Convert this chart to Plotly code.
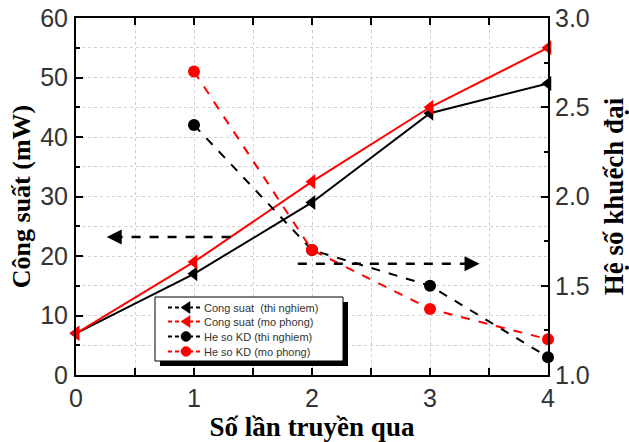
import plotly.graph_objects as go

passes = [0, 1, 2, 3, 4]
power_exp = [7, 17, 29, 44, 49]
power_sim = [7, 19, 32.5, 45, 55]
kd_x = [1, 2, 3, 4]
kd_exp = [2.40, 1.70, 1.50, 1.10]
kd_sim = [2.70, 1.70, 1.37, 1.20]
series_names = ["Cong suat  (thi nghiem)", "Cong suat (mo phong)",
                "He so KD (thi nghiem)", "He so KD (mo phong)"]
series_colors = ["black", "red", "black", "red"]
series_symbols = ["triangle", "triangle", "circle", "circle"]

W, H = 629, 442
L, R, T, B = 76, 81, 18, 67
PW, PH = W - L - R, H - T - B


def px(x):
    return (x - L) / PW


def py(y):
    return (H - B - y) / PH


fig = go.Figure()
fig.add_trace(go.Scatter(x=passes, y=power_exp, name=series_names[0], mode="lines+markers",
                         line=dict(color="black", width=2), marker=dict(symbol="triangle-left", size=13, color="black"),
                         cliponaxis=False, showlegend=False))
fig.add_trace(go.Scatter(x=passes, y=power_sim, name=series_names[1], mode="lines+markers",
                         line=dict(color="red", width=2), marker=dict(symbol="triangle-left", size=13, color="red"),
                         cliponaxis=False, showlegend=False))
fig.add_trace(go.Scatter(x=kd_x, y=kd_exp, name=series_names[2], mode="lines+markers", yaxis="y2",
                         line=dict(color="black", width=2, dash="dash"), marker=dict(symbol="circle", size=12, color="black"),
                         cliponaxis=False, showlegend=False))
fig.add_trace(go.Scatter(x=kd_x, y=kd_sim, name=series_names[3], mode="lines+markers", yaxis="y2",
                         line=dict(color="red", width=2, dash="dash"), marker=dict(symbol="circle", size=12, color="red"),
                         cliponaxis=False, showlegend=False))

tickfont = dict(family="Liberation Sans, Arial", size=25, color="#333")
grid = dict(showgrid=True, gridcolor="#cfcfcf", griddash="dot", gridwidth=1)
fig.update_layout(
    width=W, height=H,
    margin=dict(l=L, r=R, t=T, b=B),
    paper_bgcolor="white", plot_bgcolor="white",
    showlegend=False,
    xaxis=dict(range=[0, 4], dtick=1, **grid, automargin=False,
               showline=True, linecolor="black", linewidth=2, mirror="allticks",
               ticks="inside", ticklen=7, tickwidth=2, tickcolor="black", tickfont=tickfont,
               minor=dict(dtick=0.5, ticks="inside", ticklen=4, tickwidth=2, tickcolor="black",
                          showgrid=True, gridcolor="#cfcfcf", griddash="dot"),
               zeroline=False,
               title=dict(text="<b>Số lần truyền qua</b>", font=dict(family="Liberation Serif, Times New Roman", size=27, color="black"), standoff=0)),
    yaxis=dict(range=[0, 60], dtick=10, **grid, automargin=False,
               showline=True, linecolor="black", linewidth=2, mirror=True,
               ticks="inside", ticklen=7, tickwidth=2, tickcolor="black", tickfont=tickfont, ticklabelstandoff=1,
               minor=dict(dtick=5, ticks="inside", ticklen=4, tickwidth=2, tickcolor="black",
                          showgrid=True, gridcolor="#cfcfcf", griddash="dot"),
               zeroline=False,
               title=dict(text="<b>Công suất (mW)</b>", font=dict(family="Liberation Serif, Times New Roman", size=26, color="black"), standoff=2)),
    yaxis2=dict(range=[1.0, 3.0], dtick=0.5, overlaying="y", side="right", showgrid=False, automargin=False,
                showline=True, linecolor="black", linewidth=2,
                ticks="inside", ticklen=7, tickwidth=2, tickcolor="black", tickfont=tickfont, tickformat=".1f",
                minor=dict(dtick=0.25, ticks="inside", ticklen=4, tickwidth=2, tickcolor="black"),
                zeroline=False,
                title=dict(text="<b>Hệ số khuếch đại</b>", font=dict(family="Liberation Serif, Times New Roman", size=27, color="black"), standoff=16)),
)

# manual legend box with shadow
bx0, bx1, by0, by1 = 155, 343, 297, 361
fig.add_shape(type="rect", xref="paper", yref="paper", x0=px(bx0 + 5), x1=px(bx1 + 5), y0=py(by1 + 5), y1=py(by0 + 5),
              fillcolor="black", line=dict(width=0), layer="above")
fig.add_shape(type="rect", xref="paper", yref="paper", x0=px(bx0), x1=px(bx1), y0=py(by1), y1=py(by0),
              fillcolor="white", line=dict(color="black", width=1), layer="above")
row_y = [307.5, 321.5, 336.5, 351.5]
for name, col, sym, yy in zip(series_names, series_colors, series_symbols, row_y):
    fig.add_shape(type="line", xref="paper", yref="paper", x0=px(168), x1=px(201), y0=py(yy), y1=py(yy),
                  line=dict(color=col, width=2, dash="4px,3px"), layer="above")
    cx = 186
    if sym == "triangle":
        path = f"M {px(cx - 5)} {py(yy)} L {px(cx + 4)} {py(yy - 6)} L {px(cx + 4)} {py(yy + 6)} Z"
        fig.add_shape(type="path", xref="paper", yref="paper", path=path, fillcolor=col,
                      line=dict(color=col, width=0.5), layer="above")
    else:
        fig.add_shape(type="circle", xref="paper", yref="paper", x0=px(cx - 5), x1=px(cx + 5),
                      y0=py(yy + 5), y1=py(yy - 5), fillcolor=col, line=dict(color=col, width=0.5), layer="above")
    fig.add_annotation(xref="paper", yref="paper", x=px(202), y=py(yy), xanchor="left", yanchor="middle",
                       text=name, showarrow=False, font=dict(family="Liberation Sans, Arial", size=11, color="#333"))

# dashed arrows
fig.add_shape(type="line", x0=1.31, x1=0.34, y0=23.2, y1=23.2, line=dict(color="black", width=2.5, dash="dash"))
fig.add_annotation(x=0.26, y=23.2, ax=0.40, ay=23.2, axref="x", ayref="y", text="", showarrow=True,
                   arrowhead=2, arrowsize=1.2, arrowwidth=2.5, arrowcolor="black")
fig.add_shape(type="line", x0=1.88, x1=3.32, y0=18.7, y1=18.7, line=dict(color="black", width=2.5, dash="dash"))
fig.add_annotation(x=3.42, y=18.7, ax=3.28, ay=18.7, axref="x", ayref="y", text="", showarrow=True,
                   arrowhead=2, arrowsize=1.2, arrowwidth=2.5, arrowcolor="black")

fig.write_html("out.html", config={"displayModeBar": False},
               post_script="document.body.style.margin='0';document.body.style.overflow='hidden';")
